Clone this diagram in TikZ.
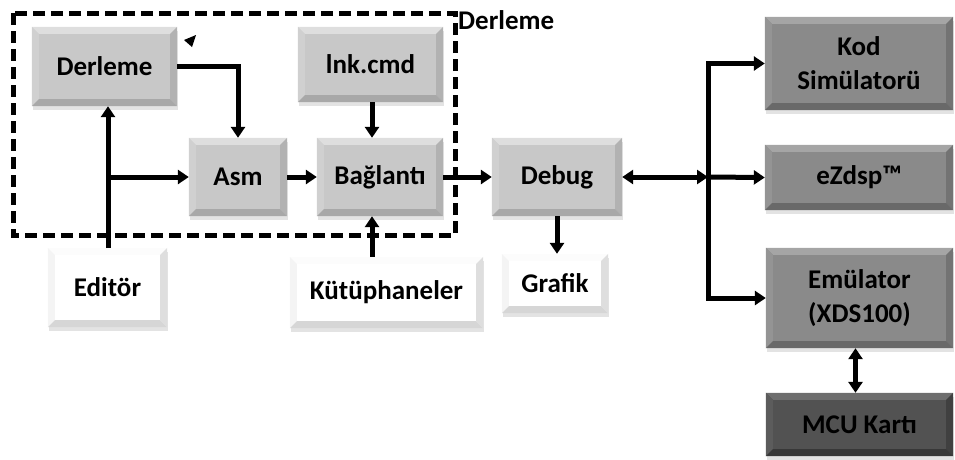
\documentclass[tikz,border=0pt]{standalone}
\usepackage{fontspec}
\setmainfont{Carlito}
\usetikzlibrary{arrows.meta,shadows,calc}

% bevel colours: base, top, left, right, bottom
\definecolor{lgBase}{RGB}{200,200,200}
\definecolor{lgTop}{RGB}{222,222,222}
\definecolor{lgLeft}{RGB}{208,208,208}
\definecolor{lgRight}{RGB}{178,178,178}
\definecolor{lgBot}{RGB}{168,168,168}
\definecolor{dgBase}{RGB}{138,138,138}
\definecolor{dgTop}{RGB}{165,165,165}
\definecolor{dgLeft}{RGB}{148,148,148}
\definecolor{dgRight}{RGB}{115,115,115}
\definecolor{dgBot}{RGB}{105,105,105}
\definecolor{mcBase}{RGB}{82,82,82}
\definecolor{mcTop}{RGB}{110,110,110}
\definecolor{mcLeft}{RGB}{92,92,92}
\definecolor{mcRight}{RGB}{64,64,64}
\definecolor{mcBot}{RGB}{56,56,56}
\definecolor{wtTop}{RGB}{252,252,252}
\definecolor{wtLeft}{RGB}{244,244,244}
\definecolor{wtRight}{RGB}{222,222,222}
\definecolor{wtBot}{RGB}{214,214,214}

\newcommand\bw{7}
% draws the four bevel faces of a rectangular node
\newcommand\boxbevel[5]{%
  \fill[#2] (#1.north west) -- (#1.north east) -- ([shift={(-\bw,\bw)}]#1.north east) -- ([shift={(\bw,\bw)}]#1.north west) -- cycle;
  \fill[#3] (#1.north west) -- ([shift={(\bw,\bw)}]#1.north west) -- ([shift={(\bw,-\bw)}]#1.south west) -- (#1.south west) -- cycle;
  \fill[#4] (#1.north east) -- ([shift={(-\bw,\bw)}]#1.north east) -- ([shift={(-\bw,-\bw)}]#1.south east) -- (#1.south east) -- cycle;
  \fill[#5] (#1.south west) -- ([shift={(\bw,-\bw)}]#1.south west) -- ([shift={(-\bw,-\bw)}]#1.south east) -- (#1.south east) -- cycle;
}

\tikzset{
  box/.style={rectangle, inner sep=0pt, align=center,
    font=\bfseries\fontsize{27}{34}\selectfont,
    drop shadow={shadow xshift=1pt, shadow yshift=-3.5pt, opacity=0.22}},
  lightbox/.style={box, fill=lgBase},
  darkbox/.style={box, fill=dgBase},
  mcubox/.style={box, fill=mcBase},
  whitebox/.style={box, fill=white},
  arr/.style={line width=5pt, -{Triangle[length=11pt,width=14pt]}},
  dblarr/.style={line width=5pt, {Triangle[length=11pt,width=14pt]}-{Triangle[length=11pt,width=14pt]}},
  frame/.style={line width=5pt, dash pattern=on 12pt off 6pt},
}

\begin{document}
\begin{tikzpicture}[x=1pt, y=-1pt]
\useasboundingbox (0,0) rectangle (955,459);

% compile group frame
\draw[frame] (13,13) rectangle (455,235);
\node[anchor=west, font=\bfseries\fontsize{27}{30}\selectfont, inner sep=0pt] (grp) at (458,20) {Derleme};

% blocks
\node[lightbox, minimum width=145pt, minimum height=79pt] (derl) at (104.5,66.5) {Derleme};
\node[lightbox, minimum width=145pt, minimum height=75pt] (lnk) at (370.5,64.5) {lnk.cmd};
\node[lightbox, minimum width=98pt, minimum height=78pt] (asm) at (238,177) {Asm};
\node[lightbox, minimum width=126pt, minimum height=78pt] (bag) at (380,177) {Bağlantı};
\node[lightbox, minimum width=130pt, minimum height=78pt] (debug) at (557,177) {Debug};
\node[darkbox, minimum width=188pt, minimum height=93pt] (kod) at (859,63.5) {Kod\\Simülatorü};
\node[darkbox, minimum width=188pt, minimum height=65pt] (ezdsp) at (859,177.5) {eZdsp™};
\node[darkbox, minimum width=187pt, minimum height=100pt] (emu) at (859.5,298) {Emülator\\(XDS100)};
\node[mcubox, minimum width=187pt, minimum height=63pt] (mcu) at (859.5,424.5) {MCU Kartı};
\node[whitebox, minimum width=119pt, minimum height=79pt] (editor) at (107.5,287.5) {Editör};
\node[whitebox, minimum width=193pt, minimum height=71pt] (kut) at (386.5,292.5) {Kütüphaneler};
\node[whitebox, minimum width=106pt, minimum height=59pt] (grafik) at (555,283.5) {Grafik};

\foreach \n in {derl,lnk,asm,bag,debug}{\boxbevel{\n}{lgTop}{lgLeft}{lgRight}{lgBot}}
\foreach \n in {kod,ezdsp,emu}{\boxbevel{\n}{dgTop}{dgLeft}{dgRight}{dgBot}}
\boxbevel{mcu}{mcTop}{mcLeft}{mcRight}{mcBot}
\foreach \n in {editor,kut,grafik}{\boxbevel{\n}{wtTop}{wtLeft}{wtRight}{wtBot}}

% connectors
\coordinate (ed) at (108,248);
\coordinate (split) at (108,177);
\coordinate (lx) at (372,0);
\coordinate (bus) at (708,177);

\draw[arr] (ed) -- (ed |- derl.south);
\draw[arr] (split) -- (asm.west);
\draw[arr] (derl.east) -| (asm.north);
\draw[arr] (lnk.south -| lx) -- (bag.north -| lx);
\draw[arr] (kut.north -| lx) -- (bag.south -| lx);
\draw[arr] (asm.east) -- (bag.west);
\draw[arr] (bag.east) -- (debug.west);
\draw[arr] (debug.south) -- (debug.south |- grafik.north);
\draw[dblarr] (debug.east) -- (bus);
\draw[arr] (bus) |- (kod.west);
\draw[arr] (bus) -- (ezdsp.west);
\draw[arr] (bus) |- (emu.west);
\draw[dblarr] ([xshift=-4pt]emu.south) -- ([xshift=-4pt]mcu.north);

% small stray arrow tip beside the first block
\fill (184,40) -- (196,35) -- (192,47) -- cycle;
\end{tikzpicture}
\end{document}
